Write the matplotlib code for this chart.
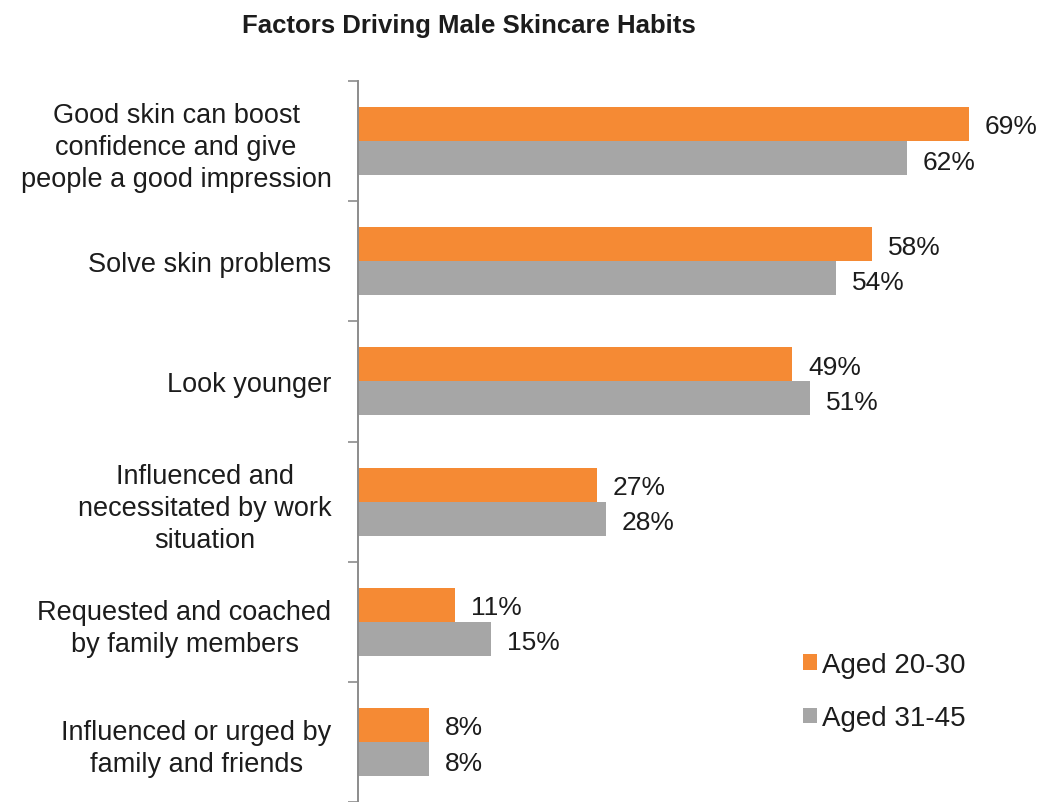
import matplotlib
matplotlib.use("Agg")
import matplotlib.pyplot as plt
from matplotlib.patches import Patch
from matplotlib import font_manager as fm

categories = [
    "Good skin can boost\nconfidence and give\npeople a good impression",
    "Solve skin problems",
    "Look younger",
    "Influenced and\nnecessitated by work\nsituation",
    "Requested and coached\nby family members",
    "Influenced or urged by\nfamily and friends",
]
aged_20_30 = [69, 58, 49, 27, 11, 8]
aged_31_45 = [62, 54, 51, 28, 15, 8]
series_labels = ["Aged 20-30", "Aged 31-45"]
title = "Factors Driving Male Skincare Habits"

ORANGE = "#F58A34"
GRAY = "#A6A6A6"
TEXT = "#1c1c1c"

names = {f.name for f in fm.fontManager.ttflist}
body_font = "Liberation Sans" if "Liberation Sans" in names else "DejaVu Sans"
plt.rcParams["font.family"] = body_font

W, H = 1040, 803
fig = plt.figure(figsize=(W / 100, H / 100), dpi=100)
ax_left, ax_top, ax_bottom = 358, 82, 803
px_per_pct = 8.855
xmax = 75
ax = fig.add_axes([ax_left / W, 1 - ax_bottom / H,
                   xmax * px_per_pct / W, (ax_bottom - ax_top) / H])

n = len(categories)
bar_h = 0.283
pos = list(range(n))
ax.barh([p - bar_h / 2 for p in pos], aged_20_30, height=bar_h, color=ORANGE, linewidth=0)
ax.barh([p + bar_h / 2 for p in pos], aged_31_45, height=bar_h, color=GRAY, linewidth=0)

ax.set_xlim(0, xmax)
ax.set_ylim(n - 0.5, -0.5)

# boundary ticks on the axis line, labels at category centres
ax.set_yticks([i - 0.5 for i in range(n + 1)])
ax.set_yticklabels([])
ax.tick_params(axis="y", which="major", direction="out", length=7, width=1.2, color="#8c8c8c")
ax.set_yticks(pos, minor=True)
ax.set_yticklabels(categories, minor=True, fontsize=19.5, color=TEXT,
                   multialignment="center", linespacing=1.3)
ax.tick_params(axis="y", which="minor", length=0, pad=19)
ax.set_xticks([])

for s in ["top", "right", "bottom"]:
    ax.spines[s].set_visible(False)
ax.spines["left"].set_color("#8c8c8c")
ax.spines["left"].set_linewidth(1.4)

off = 16 / px_per_pct
for p, v in zip(pos, aged_20_30):
    ax.text(v + off, p - bar_h / 2 + 0.02, f"{v}%", va="center", ha="left", fontsize=19, color=TEXT)
for p, v in zip(pos, aged_31_45):
    ax.text(v + off, p + bar_h / 2 + 0.03, f"{v}%", va="center", ha="left", fontsize=19, color=TEXT)

handles = [Patch(facecolor=ORANGE, edgecolor="none"), Patch(facecolor=GRAY, edgecolor="none")]
fig.legend(handles, series_labels, loc="upper left",
           bbox_to_anchor=(792 / W, 1 - 642 / H), frameon=False,
           fontsize=20, handlelength=0.5, handleheight=0.5, handletextpad=0.18,
           labelspacing=0.98, labelcolor=TEXT, borderaxespad=0)

fig.text(469 / W, 1 - 26 / H, title, ha="center", va="center",
         fontsize=18.5, fontweight="bold", color=TEXT)

fig.savefig("out.png", dpi=100, facecolor="white")
